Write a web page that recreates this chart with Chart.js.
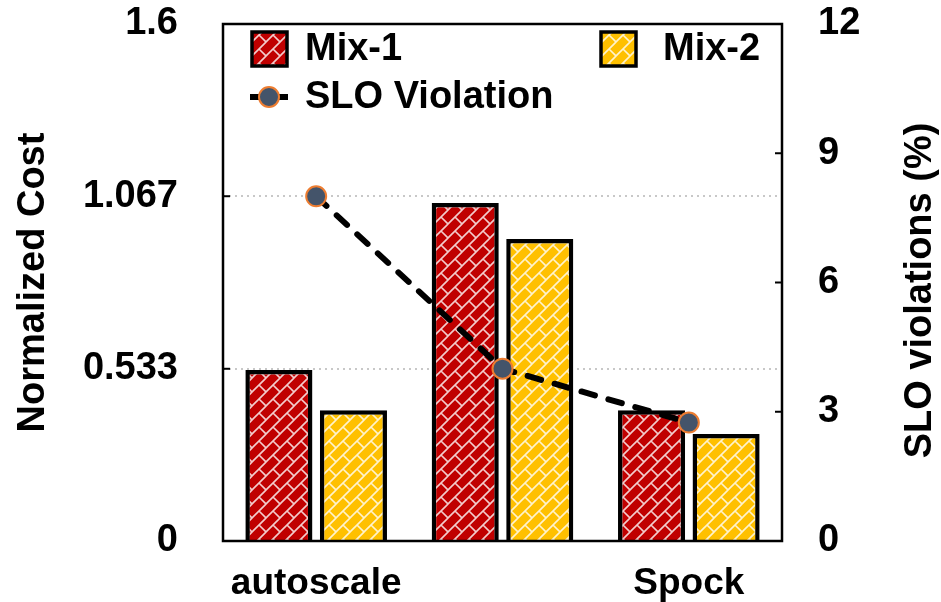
<!DOCTYPE html>
<html>
<head>
<meta charset="utf-8">
<script src="https://cdn.jsdelivr.net/npm/chart.js@4"></script>
<style>
  html, body { margin: 0; padding: 0; background: #fff; }
  #wrap { width: 941px; height: 602px; }
</style>
</head>
<body>
<div id="wrap"><canvas id="chart" width="941" height="602"></canvas></div>
<script>
const labels = ["autoscale", "", "Spock"];
const mix1 = [0.529, 1.046, 0.405];
const mix2 = [0.405, 0.935, 0.331];
const sloViolation = [8.0, 4.0, 2.75];
const costTicks = [0, 0.533, 1.067, 1.6];
const costTickLabels = ["0", "0.533", "1.067", "1.6"];
const sloTicks = [0, 3, 6, 9, 12];

const FONT = "'Liberation Sans', Arial, sans-serif";

// brick hatch like the excel fill
function brick(color) {
    var c = document.createElement("canvas");
    var s = 14;
    c.width = s; c.height = s;
    var g = c.getContext("2d");
    g.fillStyle = color;
    g.fillRect(0, 0, s, s);
    g.strokeStyle = "rgba(255,255,255,0.8)";
    g.lineWidth = 1.6;
    g.beginPath();
    g.moveTo(-1, s + 1); g.lineTo(s + 1, -1);
    g.moveTo(-1, 1); g.lineTo(1, -1);
    g.moveTo(s - 1, s + 1); g.lineTo(s + 1, s - 1);
    g.moveTo(s / 2, s / 2); g.lineTo(s + 1, s + 1);
    g.stroke();
    return g.createPattern(c, "repeat");
}

const redFill = brick("#c00000");
const yellowFill = brick("#ffc000");

// box, inside tick marks, legend, right title
const frame = {
    id: "frame",
    afterDatasetsDraw(chart) {
        var ctx = chart.ctx, a = chart.chartArea;
        ctx.save();
        ctx.strokeStyle = "#000";
        ctx.lineWidth = 2.5;
        ctx.strokeRect(a.left, a.top, a.right - a.left, a.bottom - a.top);
        ctx.lineWidth = 2;
        [0.533, 1.067].forEach(function (v) {
            var y = chart.scales.y.getPixelForValue(v);
            ctx.beginPath(); ctx.moveTo(a.left, y); ctx.lineTo(a.left + 7, y); ctx.stroke();
        });
        [3, 6, 9].forEach(function (v) {
            var y = chart.scales.y2.getPixelForValue(v);
            ctx.beginPath(); ctx.moveTo(a.right - 7, y); ctx.lineTo(a.right, y); ctx.stroke();
        });
        ctx.restore();
    },
    afterDraw(chart) {
        var ctx = chart.ctx;
        var ds = chart.data.datasets;
        var a = chart.chartArea;
        ctx.save();
        ctx.font = "bold 38px " + FONT;
        ctx.textBaseline = "middle";
        // bar items
        [[0, 252, 49, 305], [1, 601, 49, 663]].forEach(function (it) {
            var d = ds[it[0]];
            ctx.fillStyle = d.backgroundColor;
            ctx.fillRect(it[1], it[2] - 17, 35, 34);
            ctx.lineWidth = 3.5;
            ctx.strokeStyle = "#000";
            ctx.strokeRect(it[1], it[2] - 17, 35, 34);
            ctx.fillStyle = "#000";
            ctx.fillText(d.label, it[3], it[2] + 1);
        });
        // line item
        var l = ds[2];
        ctx.strokeStyle = "#000";
        ctx.lineWidth = 6;
        ctx.beginPath(); ctx.moveTo(250, 97); ctx.lineTo(288, 97); ctx.stroke();
        ctx.beginPath(); ctx.arc(269, 97, 10, 0, Math.PI * 2);
        ctx.fillStyle = l.pointBackgroundColor; ctx.fill();
        ctx.lineWidth = 2; ctx.strokeStyle = l.pointBorderColor; ctx.stroke();
        ctx.fillStyle = "#000";
        ctx.fillText(l.label, 305, 98);

        // right axis title, reading bottom to top
        var s = chart.scales.y2;
        ctx.translate(s.right - 20, (a.top + a.bottom) / 2 + 8);
        ctx.rotate(-Math.PI / 2);
        ctx.textAlign = "center";
        ctx.fillText("SLO violations (%)", 0, 0);
        ctx.restore();
    }
};

var ctx = document.getElementById("chart").getContext("2d");
var chart = new Chart(ctx, {
    type: "bar",
    data: {
        labels: labels,
        datasets: [
            {
                label: "Mix-1",
                data: mix1,
                backgroundColor: redFill,
                borderColor: "#000",
                borderWidth: 4.5,
                yAxisID: "y",
                order: 2,
            },
            {
                label: "Mix-2",
                data: mix2,
                backgroundColor: yellowFill,
                borderColor: "#000",
                borderWidth: 4.5,
                yAxisID: "y",
                order: 2,
            },
            {
                type: "line",
                label: "SLO Violation",
                data: sloViolation,
                yAxisID: "y2",
                borderColor: "#000",
                borderWidth: 6,
                borderDash: [14, 14],
                borderCapStyle: "round",
                pointRadius: 10,
                pointBackgroundColor: "#44546a",
                pointBorderColor: "#ed7d31",
                pointBorderWidth: 2,
                fill: false,
                tension: 0,
                order: 1,
            },
        ],
    },
    options: {
        responsive: false,
        animation: false,
        devicePixelRatio: 1,
        layout: { padding: { top: 24, right: 0, bottom: 0, left: 0 } },
        datasets: { bar: { categoryPercentage: 0.8, barPercentage: 0.9 } },
        plugins: { legend: { display: false }, tooltip: { enabled: false } },
        scales: {
            x: {
                grid: { display: false },
                border: { display: false },
                ticks: { color: "#000", font: { family: FONT, size: 37, weight: "bold" }, padding: 13 },
                afterFit: function (s) { s.height = 61; },
            },
            y: {
                position: "left",
                min: 0,
                max: 1.6,
                afterBuildTicks: function (s) { s.ticks = costTicks.map(function (v) { return { value: v }; }); },
                ticks: {
                    color: "#000",
                    font: { family: FONT, size: 38, weight: "bold" },
                    padding: 0,
                    callback: function (v, i) { return costTickLabels[i]; },
                },
                grid: {
                    drawTicks: true,
                    tickLength: 45,
                    tickColor: "rgba(0,0,0,0)",
                    lineWidth: 2,
                    color: function (c) { return (c.tick && (c.tick.value === 0 || c.tick.value === 1.6)) ? "rgba(0,0,0,0)" : "#c8c8c8"; },
                },
                border: { display: false, dash: [2, 4] },
                title: {
                    display: true,
                    text: "Normalized Cost",
                    color: "#000",
                    font: { family: FONT, size: 38, weight: "bold" },
                    padding: { top: 11, bottom: 0 },
                },
                afterFit: function (s) { s.width = 223; },
            },
            y2: {
                position: "right",
                min: 0,
                max: 12,
                afterBuildTicks: function (s) { s.ticks = sloTicks.map(function (v) { return { value: v }; }); },
                ticks: { color: "#000", font: { family: FONT, size: 38, weight: "bold" }, padding: 0 },
                grid: { display: true, drawOnChartArea: false, drawTicks: true, tickLength: 36, tickColor: "rgba(0,0,0,0)" },
                border: { display: false },
                afterFit: function (s) { s.width = 159; },
            },
        },
    },
    plugins: [frame],
});
</script>
</body>
</html>
